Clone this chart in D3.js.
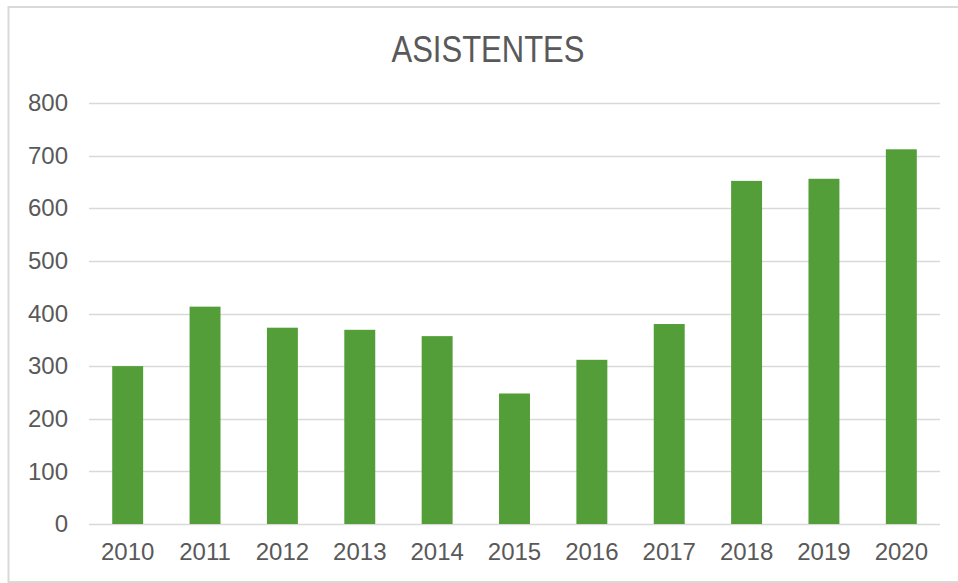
<!DOCTYPE html>
<html>
<head>
<meta charset="utf-8">
<script src="https://cdn.jsdelivr.net/npm/d3@7"></script>
<style>
  body { margin: 0; background: #fff; }
  svg { display: block; }
  text { font-family: "Liberation Sans", Arial, sans-serif; fill: #595959; }
</style>
</head>
<body>
<div id="chart"></div>
<script>
// Asistentes por año
const years = ["2010", "2011", "2012", "2013", "2014", "2015", "2016", "2017", "2018", "2019", "2020"];
const asistentes = [300, 413, 373, 369, 357, 248, 312, 380, 652, 656, 712];
const yTicks = [0, 100, 200, 300, 400, 500, 600, 700, 800];
const title = "ASISTENTES";

const W = 958, H = 583;
const margin = { left: 89, right: 18, top: 103, bottom: 59 };
const width = W - margin.left - margin.right;
const height = H - margin.top - margin.bottom;

const svg = d3.select("#chart")
    .append("svg")
    .attr("width", W)
    .attr("height", H);

// chart border (left, top, bottom visible)
svg.append("rect")
    .attr("x", 8.5)
    .attr("y", 7)
    .attr("width", 1000)
    .attr("height", 575)
    .attr("fill", "none")
    .attr("stroke", "#d9d9d9")
    .attr("stroke-width", 2);

svg.append("text")
    .attr("x", 488)
    .attr("y", 62)
    .attr("text-anchor", "middle")
    .attr("font-size", 36)
    .attr("textLength", 193)
    .attr("lengthAdjust", "spacingAndGlyphs")
    .text(title);

const g = svg.append("g").attr("transform", `translate(${margin.left},${margin.top})`);

const x = d3.scaleBand().domain(years).range([0, width]).paddingInner(0.6).paddingOuter(0.3);
const y = d3.scaleLinear().domain([0, 800]).range([height, 0]);

// gridlines
g.selectAll(".grid")
    .data(yTicks)
    .enter()
    .append("line")
    .attr("x1", 0)
    .attr("x2", width)
    .attr("y1", d => Math.round(y(d)) + 0.5)
    .attr("y2", d => Math.round(y(d)) + 0.5)
    .attr("stroke", "#d9d9d9")
    .attr("stroke-width", 1.5);

// bars
g.selectAll(".bar")
    .data(asistentes)
    .enter()
    .append("rect")
    .attr("x", (d, i) => x(years[i]))
    .attr("y", d => y(d))
    .attr("width", x.bandwidth())
    .attr("height", d => height - y(d))
    .attr("fill", "#539e39");

// y axis labels
const yAxis = g.append("g")
    .call(d3.axisLeft(y).tickValues(yTicks).tickSize(0).tickPadding(21));
yAxis.select(".domain").remove();
yAxis.selectAll("text")
    .attr("font-size", 24)
    .attr("font-family", null)
    .attr("fill", "#595959");

// x axis labels
const xAxis = g.append("g")
    .attr("transform", `translate(0,${height})`)
    .call(d3.axisBottom(x).tickSize(0).tickPadding(19));
xAxis.select(".domain").remove();
xAxis.selectAll("text")
    .attr("font-size", 24)
    .attr("font-family", null)
    .attr("fill", "#595959");
</script>
</body>
</html>
